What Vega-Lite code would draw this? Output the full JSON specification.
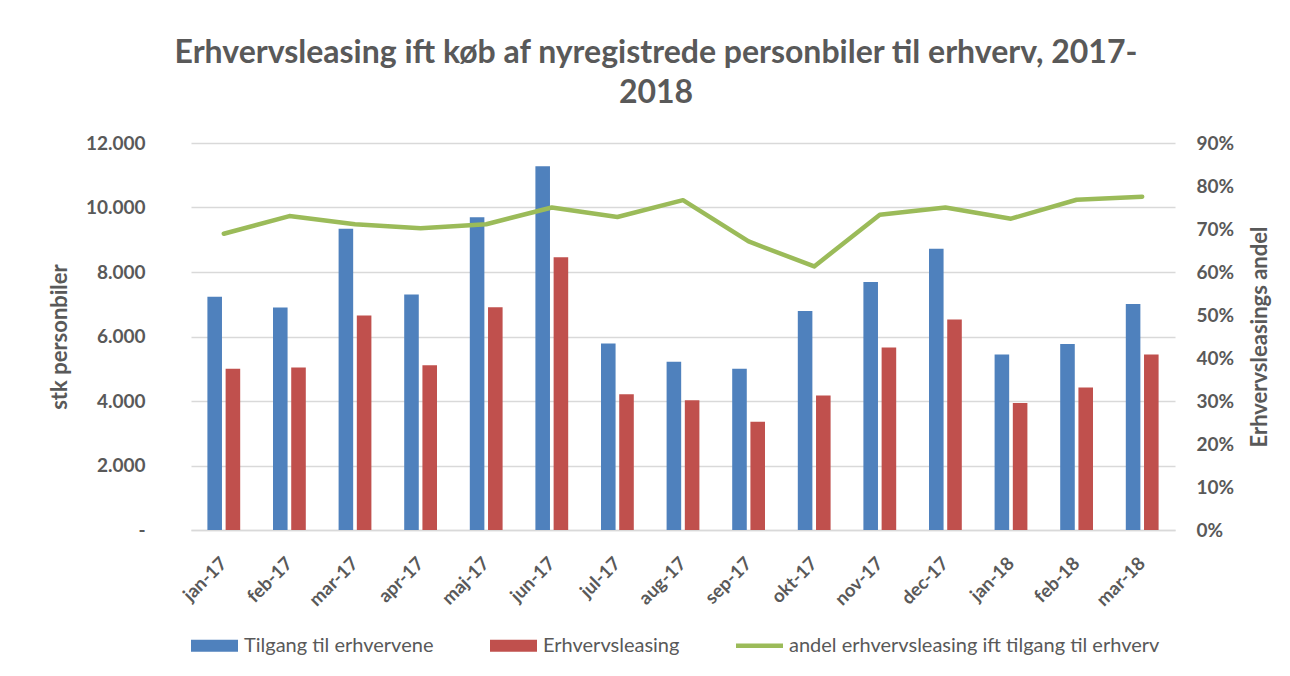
{
  "$schema": "https://vega.github.io/schema/vega-lite/v6.json",
  "width": 984,
  "height": 387,
  "autosize": {"type": "none"},
  "padding": {"left": 191, "top": 143, "right": 115, "bottom": 146},
  "background": "white",
  "title": {
    "text": ["Erhvervsleasing ift køb af nyregistrede personbiler til erhverv, 2017-", "2018"],
    "font": "Lato",
    "fontSize": 32,
    "fontWeight": "bold",
    "color": "#595959",
    "anchor": "middle",
    "frame": "group",
    "dx": -27,
    "offset": 24,
    "lineHeight": 40
  },
  "data": {
    "values": [
      {"maaned": "jan-17", "Tilgang til erhvervene": 7230, "Erhvervsleasing": 5000, "andel": 0.689},
      {"maaned": "feb-17", "Tilgang til erhvervene": 6900, "Erhvervsleasing": 5040, "andel": 0.730},
      {"maaned": "mar-17", "Tilgang til erhvervene": 9340, "Erhvervsleasing": 6650, "andel": 0.711},
      {"maaned": "apr-17", "Tilgang til erhvervene": 7300, "Erhvervsleasing": 5110, "andel": 0.702},
      {"maaned": "maj-17", "Tilgang til erhvervene": 9700, "Erhvervsleasing": 6910, "andel": 0.711},
      {"maaned": "jun-17", "Tilgang til erhvervene": 11280, "Erhvervsleasing": 8460, "andel": 0.750},
      {"maaned": "jul-17", "Tilgang til erhvervene": 5780, "Erhvervsleasing": 4210, "andel": 0.728},
      {"maaned": "aug-17", "Tilgang til erhvervene": 5220, "Erhvervsleasing": 4020, "andel": 0.767},
      {"maaned": "sep-17", "Tilgang til erhvervene": 5000, "Erhvervsleasing": 3360, "andel": 0.671},
      {"maaned": "okt-17", "Tilgang til erhvervene": 6790, "Erhvervsleasing": 4170, "andel": 0.613},
      {"maaned": "nov-17", "Tilgang til erhvervene": 7690, "Erhvervsleasing": 5660, "andel": 0.733},
      {"maaned": "dec-17", "Tilgang til erhvervene": 8720, "Erhvervsleasing": 6530, "andel": 0.750},
      {"maaned": "jan-18", "Tilgang til erhvervene": 5440, "Erhvervsleasing": 3940, "andel": 0.724},
      {"maaned": "feb-18", "Tilgang til erhvervene": 5770, "Erhvervsleasing": 4420, "andel": 0.768},
      {"maaned": "mar-18", "Tilgang til erhvervene": 7010, "Erhvervsleasing": 5440, "andel": 0.775}
    ]
  },
  "encoding": {
    "x": {
      "field": "maaned",
      "type": "nominal",
      "sort": null,
      "scale": {"paddingInner": 0.5, "paddingOuter": 0.25},
      "axis": {
        "title": null,
        "labelAngle": -45,
        "labelAlign": "right",
        "labelBaseline": "middle",
        "labelPadding": 30,
        "labelFont": "Lato",
        "labelFontSize": 18.5,
        "labelFontWeight": "bold",
        "labelColor": "#595959",
        "ticks": false,
        "domainColor": "#D9D9D9",
        "domainWidth": 1.5,
        "grid": false
      }
    }
  },
  "layer": [
    {
      "transform": [{"fold": ["Tilgang til erhvervene", "Erhvervsleasing"], "as": ["serie", "antal"]}],
      "mark": {"type": "bar"},
      "encoding": {
        "xOffset": {"field": "serie", "type": "nominal", "sort": ["Tilgang til erhvervene", "Erhvervsleasing"], "scale": {"paddingInner": 0.2}},
        "y": {
          "field": "antal",
          "type": "quantitative",
          "scale": {"domain": [0, 12000]},
          "axis": {
            "title": "stk personbiler",
            "values": [0, 2000, 4000, 6000, 8000, 10000, 12000],
            "labelExpr": "datum.value == 0 ? '-\u00a0\u00a0' : replace(format(datum.value, ','), ',', '.')",
            "grid": true,
            "gridColor": "#D9D9D9",
            "gridWidth": 1.5,
            "domain": false,
            "ticks": false,
            "labelPadding": 46,
            "labelFont": "Lato",
            "labelFontSize": 19,
            "labelFontWeight": "bold",
            "labelColor": "#595959",
            "titleFont": "Lato",
            "titleFontSize": 22,
            "titleFontWeight": "bold",
            "titleColor": "#595959",
            "titlePadding": 14
          }
        },
        "color": {
          "field": "serie",
          "type": "nominal",
          "scale": {
            "domain": ["Tilgang til erhvervene", "Erhvervsleasing", "andel erhvervsleasing ift tilgang til erhverv"],
            "range": ["#4F81BD", "#C0504D", "#9BBB59"]
          },
          "legend": {
            "title": null,
            "orient": "bottom",
            "direction": "horizontal",
            "symbolType": "M-1,-0.26H1V0.26H-1Z",
            "symbolSize": 2209,
            "symbolStrokeWidth": 0,
            "labelFont": "Lato",
            "labelFontSize": 20,
            "labelColor": "#595959",
            "labelOffset": 6,
            "labelLimit": 600,
            "columnPadding": 56,
            "offset": 12,
            "encode": {
              "symbols": {
                "update": {
                  "shape": {"signal": "datum.label == 'andel erhvervsleasing ift tilgang til erhverv' ? 'M-1,-0.1H1V0.1H-1Z' : 'M-1,-0.26H1V0.26H-1Z'"},
                  "fill": {"scale": "color", "field": "value"},
                  "strokeWidth": {"value": 0},
                  "opacity": {"value": 1}
                }
              }
            }
          }
        }
      }
    },
    {
      "mark": {"type": "line", "strokeWidth": 4.5, "strokeCap": "round", "strokeJoin": "round"},
      "encoding": {
        "y": {
          "field": "andel",
          "type": "quantitative",
          "scale": {"domain": [0, 0.9]},
          "axis": {
            "orient": "right",
            "title": "Erhvervsleasings andel",
            "values": [0, 0.1, 0.2, 0.3, 0.4, 0.5, 0.6, 0.7, 0.8, 0.9],
            "format": ".0%",
            "grid": false,
            "domain": false,
            "ticks": false,
            "labelPadding": 21,
            "labelFont": "Lato",
            "labelFontSize": 19,
            "labelFontWeight": "bold",
            "labelColor": "#595959",
            "titleFont": "Lato",
            "titleFontSize": 22,
            "titleFontWeight": "bold",
            "titleColor": "#595959",
            "titleAngle": 270,
            "titlePadding": 38
          }
        },
        "color": {"datum": "andel erhvervsleasing ift tilgang til erhverv"}
      }
    }
  ],
  "resolve": {"scale": {"y": "independent"}},
  "config": {"view": {"stroke": null}}
}
